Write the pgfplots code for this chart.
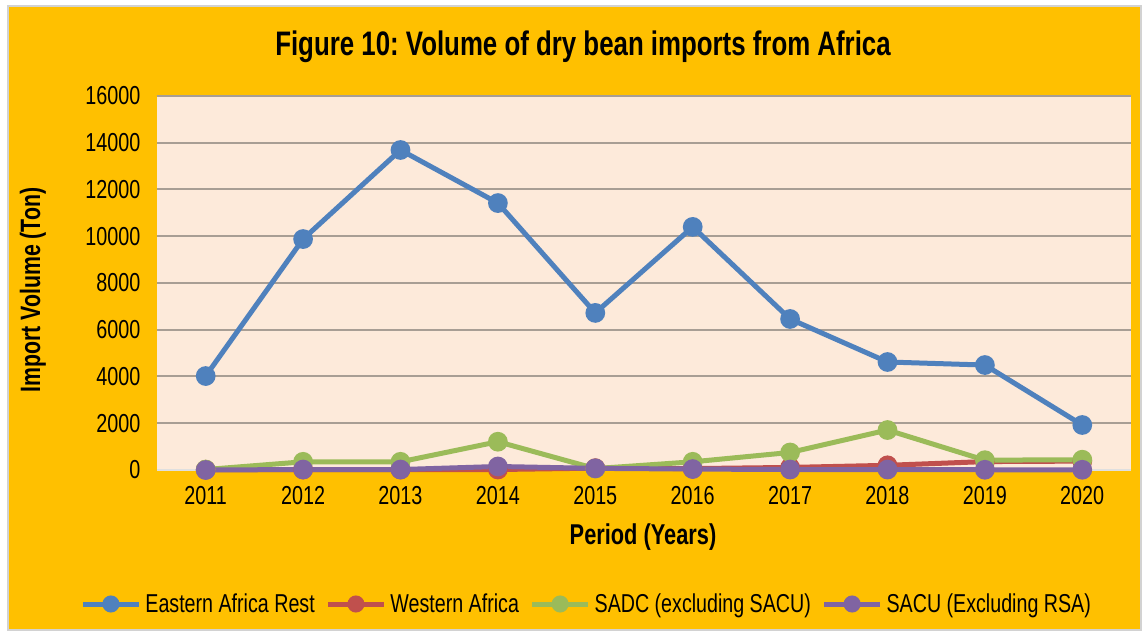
\documentclass[border=0pt]{standalone}
\usepackage{fontspec}
\setmainfont{Liberation Sans}[FakeStretch=0.76]
\usepackage{pgfplots}
\pgfplotsset{compat=1.18}
\frenchspacing

\definecolor{bgorange}{HTML}{FFC000}
\definecolor{plotbg}{HTML}{FDEADA}
\definecolor{gridc}{RGB}{168,158,148}
\definecolor{sblue}{HTML}{4F81BD}
\definecolor{sred}{HTML}{C0504D}
\definecolor{sgreen}{HTML}{9BBB59}
\definecolor{spurple}{HTML}{8064A2}

\begin{document}
\begin{tikzpicture}[x=0.75pt,y=0.75pt]
% page: 1148x634 px, plot area lower-left at (157,470) px
\fill[white] (-157,-164) rectangle (991,470);
\filldraw[fill=bgorange, draw=gray!35, line width=1.5pt] (-149,-160) rectangle (984,464);
\begin{axis}[
  at={(0,0)}, anchor=south west,
  scale only axis,
  width=730.5pt, height=280.5pt,
  xmin=2010.5, xmax=2020.5,
  ymin=0, ymax=16000,
  xtick={2011,...,2020},
  ytick={0,2000,...,16000},
  scaled y ticks=false,
  /pgf/number format/1000 sep={},
  /pgf/number format/assume math mode=true,
  tick label style={font=\fontsize{19.5pt}{20pt}\selectfont},
  xticklabel style={yshift=-9pt},
  yticklabel style={xshift=-9pt},
  major tick length=0pt,
  axis line style={draw=none},
  axis background/.style={fill=plotbg},
  ymajorgrids, grid style={gridc, line width=1.5pt},
  legend style={at={(322.5pt,-100.5pt)}, anchor=center, draw=none, fill=none,
    font=\fontsize{19.4pt}{20pt}\selectfont, column sep=1pt,
    /tikz/every even column/.append style={column sep=6pt}},
  legend columns=4,
  legend image code/.code={\draw[mark repeat=2,mark phase=2,mark size=4.5pt]
    plot coordinates {(0pt,0pt) (21pt,0pt) (42pt,0pt)};},
  every axis plot/.append style={line width=3.75pt, mark=*, mark size=5.5pt},
  clip=false,
]
\draw[gray!25, line width=1.5pt] (axis cs:2010.5,0) -- (axis cs:2020.5,0);
\addplot[color=sblue, mark options={fill=sblue}] coordinates {
  (2011,4020) (2012,9880) (2013,13690) (2014,11420) (2015,6720)
  (2016,10400) (2017,6460) (2018,4620) (2019,4490) (2020,1925)
};
\addlegendentry{Eastern Africa Rest}
\addplot[color=sred, mark options={fill=sred}] coordinates {
  (2011,10) (2012,20) (2013,20) (2014,20) (2015,80)
  (2016,60) (2017,110) (2018,200) (2019,360) (2020,380)
};
\addlegendentry{Western Africa}
\addplot[color=sgreen, mark options={fill=sgreen}] coordinates {
  (2011,20) (2012,350) (2013,350) (2014,1210) (2015,60)
  (2016,350) (2017,750) (2018,1710) (2019,420) (2020,440)
};
\addlegendentry{SADC (excluding SACU)}
\addplot[color=spurple, mark options={fill=spurple}] coordinates {
  (2011,0) (2012,20) (2013,20) (2014,150) (2015,70)
  (2016,40) (2017,20) (2018,20) (2019,10) (2020,10)
};
\addlegendentry{SACU (Excluding RSA)}
\end{axis}
\node[font=\bfseries\fontsize{25.5pt}{27pt}\selectfont] at (426,423) {Figure 10: Volume of dry bean imports from Africa};
\node[font=\bfseries\fontsize{21.5pt}{23pt}\selectfont] at (486,-67) {Period (Years)};
\node[font=\bfseries\fontsize{21pt}{23pt}\selectfont, rotate=90] at (-124,180) {Import Volume (Ton)};
\end{tikzpicture}
\end{document}
